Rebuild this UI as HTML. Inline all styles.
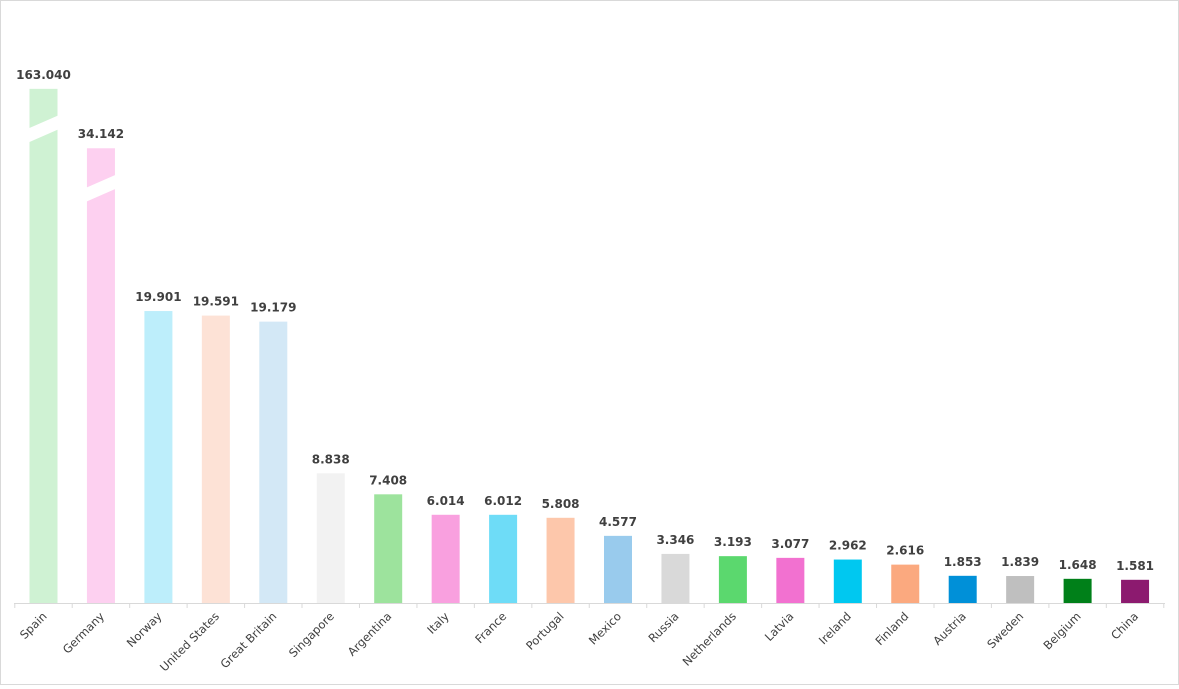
<!DOCTYPE html>
<html><head><meta charset="utf-8"><style>
html,body{margin:0;padding:0;background:#fff}
#wrap{position:relative;width:1177px;height:683px;border:1px solid #d9d9d9;background:#fff}
svg text{font-family:"DejaVu Sans","Liberation Sans",sans-serif;fill:#404040}
</style></head><body>
<div id="wrap">
<svg id="chart" width="1177" height="683"></svg>
</div>
<script>
const categories=["Spain","Germany","Norway","United States","Great Britain","Singapore","Argentina","Italy","France","Portugal","Mexico","Russia","Netherlands","Latvia","Ireland","Finland","Austria","Sweden","Belgium","China"];
const values=[163.040,34.142,19.901,19.591,19.179,8.838,7.408,6.014,6.012,5.808,4.577,3.346,3.193,3.077,2.962,2.616,1.853,1.839,1.648,1.581];
const valueLabels=["163.040","34.142","19.901","19.591","19.179","8.838","7.408","6.014","6.012","5.808","4.577","3.346","3.193","3.077","2.962","2.616","1.853","1.839","1.648","1.581"];
const colors=["#cff2d3","#fdd0f0","#bdeefb","#fde2d6","#d3e8f6","#f2f2f2","#9de39d","#f9a0df","#6edcf7","#fdc7ab","#99cbed","#d9d9d9","#5bd86e","#f271d0","#00c8f0","#fba97f","#0090d8","#bfbfbf","#008019","#8c1a6f"];
const NS="http://www.w3.org/2000/svg";
const svg=document.getElementById('chart');
const baseY=602, pxPerUnit=14.67, x0=42.5, step=57.45, barW=28, breakAt=25;
function xPos(i){return x0+i*step;}
function barH(v){
  if(v<=breakAt) return v*pxPerUnit;
  return breakAt*pxPerUnit+57.8*Math.pow(v-breakAt,0.19);
}
function mk(tag,attrs){const e=document.createElementNS(NS,tag);for(const k in attrs)e.setAttribute(k,attrs[k]);svg.appendChild(e);return e;}
// axis
const ax=mk('line',{x1:13,x2:1164,y1:baseY+0.5,y2:baseY+0.5,stroke:'#d9d9d9','stroke-width':1});


for(let i=0;i<=categories.length;i++){
  const tx=xPos(i)-step/2;
  const t=mk('line',{x1:tx,x2:tx,y1:baseY,y2:baseY+5,stroke:'#d9d9d9'});
  
  
}
categories.forEach((c,i)=>{
  const v=values[i],h=barH(v),cx=xPos(i),top=baseY-h;
  const r=mk('rect',{x:cx-barW/2,y:top,width:barW,height:h,fill:colors[i]});
  
  
  if(v>breakAt){
    const my=top+33;
    const b=mk('polygon',{points:`${cx-barW/2-2},${my+7} ${cx+barW/2+2},${my-7} ${cx+barW/2+2},${my+7} ${cx-barW/2-2},${my+21}`,fill:'#fff'});
    
    
  }
  const lbl=mk('text',{x:cx,y:top-10,'text-anchor':'middle','font-size':12,'font-weight':'bold'});
  lbl.textContent=valueLabels[i];
  
  
  const ct=mk('text',{x:0,y:0,'text-anchor':'end','font-size':11.5,transform:`translate(${cx+4},${baseY+14}) rotate(-45)`});
  ct.textContent=c;
  
  
});
</script>
</body></html>
